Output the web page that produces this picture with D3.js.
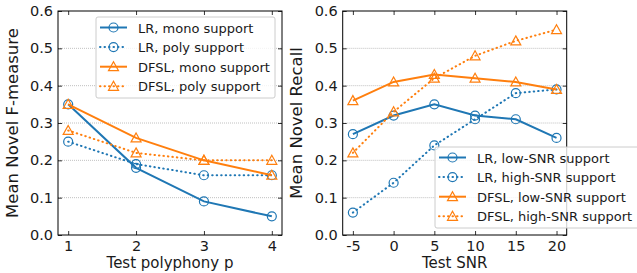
<!DOCTYPE html>
<html>
<head>
<meta charset="utf-8">
<script src="https://cdn.jsdelivr.net/npm/d3@7"></script>
<style>
body { margin: 0; background: #fff; }
text { font-family: "DejaVu Sans", sans-serif; fill: #1a1a1a; }
</style>
</head>
<body>
<svg id="chart" width="637" height="273"></svg>
<script>

// left panel data
var polyphony = [1, 2, 3, 4];
var lrMono = [0.35, 0.18, 0.09, 0.05];
var lrPoly = [0.25, 0.19, 0.16, 0.16];
var dfslMono = [0.35, 0.26, 0.20, 0.16];
var dfslPoly = [0.28, 0.22, 0.20, 0.20];

// right panel data
var snr = [-5, 0, 5, 10, 15, 20];
var lrLow = [0.27, 0.32, 0.35, 0.32, 0.31, 0.26];
var lrHigh = [0.06, 0.14, 0.24, 0.31, 0.38, 0.39];
var dfslLow = [0.36, 0.41, 0.43, 0.42, 0.41, 0.39];
var dfslHigh = [0.22, 0.33, 0.42, 0.48, 0.52, 0.55];

var yTicks = [0, 0.1, 0.2, 0.3, 0.4, 0.5, 0.6];

var blue = "#1f77b4", orange = "#ff7f0e";

var svg = d3.select("#chart");

function panel(opt) {
	var x = d3.scaleLinear()
		.domain(opt.xDomain)
		.range([opt.left, opt.right]);
	var y = d3.scaleLinear()
		.domain([0, 0.6])
		.range([235, 11]);

	var g = svg.append("g");

	// grid
	g.selectAll(".grid")
		.data(yTicks.slice(1, -1))
		.enter().append("line")
		.attr("x1", opt.left).attr("x2", opt.right)
		.attr("y1", y).attr("y2", y)
		.attr("stroke", "#b0b0b0")
		.attr("stroke-width", 0.8)
		.style("stroke-dasharray", "1,1");

	var xa = g.append("g").attr("transform", "translate(0,235)")
		.call(d3.axisBottom(x).tickValues(opt.xTicks).tickFormat(function(d) { return String(d); })
			.tickSizeInner(-4).tickSizeOuter(0).tickPadding(6));
	var xt = g.append("g").attr("transform", "translate(0,11)")
		.call(d3.axisTop(x).tickValues(opt.xTicks).tickSizeInner(-4).tickSizeOuter(0).tickFormat(""));
	var ya = g.append("g").attr("transform", "translate(" + opt.left + ",0)")
		.call(d3.axisLeft(y).tickValues(yTicks).tickFormat(d3.format(".1f")).tickSizeInner(-4).tickSizeOuter(0).tickPadding(5));
	var yr = g.append("g").attr("transform", "translate(" + opt.right + ",0)")
		.call(d3.axisRight(y).tickValues(yTicks).tickSizeInner(-4).tickSizeOuter(0).tickFormat(""));

	[xa, xt, ya, yr].forEach(function(a) {
		a.select(".domain").remove();
		a.selectAll("line").attr("stroke", "#000").attr("stroke-width", 0.8);
		a.selectAll("text").attr("font-size", "14.5px").attr("font-family", "DejaVu Sans").attr("fill", "#1a1a1a");
	});

	g.append("rect")
		.attr("x", opt.left).attr("y", 11)
		.attr("width", opt.right - opt.left).attr("height", 224)
		.attr("fill", "none").attr("stroke", "#000").attr("stroke-width", 1);

	g.append("text")
		.attr("x", (opt.left + opt.right) / 2)
		.attr("y", 268)
		.attr("text-anchor", "middle")
		.attr("font-size", "15px")
		.text(opt.xLabel);

	g.append("text")
		.attr("transform", "translate(" + opt.yLabelX + "," + 123 + ") rotate(-90)")
		.attr("text-anchor", "middle")
		.attr("font-size", "16.5px")
		.text(opt.yLabel);

	var line = d3.line()
		.x(function(d, i) { return x(opt.xs[i]); })
		.y(function(d) { return y(d); });

	opt.series.forEach(function(s) {
		g.append("path")
			.datum(s.values)
			.attr("d", line)
			.attr("fill", "none")
			.attr("stroke", s.color)
			.attr("stroke-width", 2)
			.attr("stroke-linecap", s.dotted ? "round" : "butt")
			.style("stroke-dasharray", s.dotted ? "0.5,4" : null);
		drawMarkers(g, s, s.values.map(function(d, i) { return [x(opt.xs[i]), y(d)]; }));
	});

	// legend
	var lg = g.append("g").attr("transform", "translate(" + opt.legX + "," + opt.legY + ")");
	lg.append("rect")
		.attr("width", opt.legW).attr("height", 81)
		.attr("rx", 2)
		.attr("fill", "#fff").attr("fill-opacity", 0.8)
		.attr("stroke", "#ccc").attr("stroke-width", 1);
	opt.series.forEach(function(s, i) {
		var cy = 10.5 + i * 19.6;
		lg.append("line")
			.attr("x1", 4).attr("x2", 31)
			.attr("y1", cy).attr("y2", cy)
			.attr("stroke", s.color).attr("stroke-width", 2)
			.attr("stroke-linecap", s.dotted ? "round" : "butt")
			.style("stroke-dasharray", s.dotted ? "0.5,4" : null);
		drawMarkers(lg, s, [[17.5, cy]]);
		lg.append("text")
			.attr("x", 42).attr("y", cy + 5)
			.attr("font-size", "13px")
			.text(s.name);
	});
}

function drawMarkers(g, s, pts) {
	pts.forEach(function(p) {
		if (s.marker == "circle") {
			g.append("circle")
				.attr("cx", p[0]).attr("cy", p[1]).attr("r", 4.5)
				.attr("fill", "none").attr("stroke", s.color).attr("stroke-width", 1.2);
		} else {
			g.append("path")
				.attr("d", "M" + p[0] + "," + (p[1] - 5) + "L" + (p[0] + 5) + "," + (p[1] + 4) + "L" + (p[0] - 5) + "," + (p[1] + 4) + "Z")
				.attr("fill", "none").attr("stroke", s.color).attr("stroke-width", 1.2);
		}
	});
}

panel({
	left: 58, right: 282,
	xDomain: [1 - 0.15, 4 + 0.15],
	xTicks: polyphony,
	xs: polyphony,
	xLabel: "Test polyphony p",
	yLabel: "Mean Novel F-measure",
	yLabelX: 18,
	legX: 96, legY: 17, legW: 179,
	series: [
		{ name: "LR, mono support", values: lrMono, color: blue, marker: "circle", dotted: false },
		{ name: "LR, poly support", values: lrPoly, color: blue, marker: "circle", dotted: true },
		{ name: "DFSL, mono support", values: dfslMono, color: orange, marker: "tri", dotted: false },
		{ name: "DFSL, poly support", values: dfslPoly, color: orange, marker: "tri", dotted: true }
	]
});

panel({
	left: 342.7, right: 566.7,
	xDomain: [-5 - 1.25, 20 + 1.25],
	xTicks: snr,
	xs: snr,
	xLabel: "Test SNR",
	yLabel: "Mean Novel Recall",
	yLabelX: 302,
	legX: 435, legY: 147, legW: 210,
	series: [
		{ name: "LR, low-SNR support", values: lrLow, color: blue, marker: "circle", dotted: false },
		{ name: "LR, high-SNR support", values: lrHigh, color: blue, marker: "circle", dotted: true },
		{ name: "DFSL, low-SNR support", values: dfslLow, color: orange, marker: "tri", dotted: false },
		{ name: "DFSL, high-SNR support", values: dfslHigh, color: orange, marker: "tri", dotted: true }
	]
});

</script>
</body>
</html>
